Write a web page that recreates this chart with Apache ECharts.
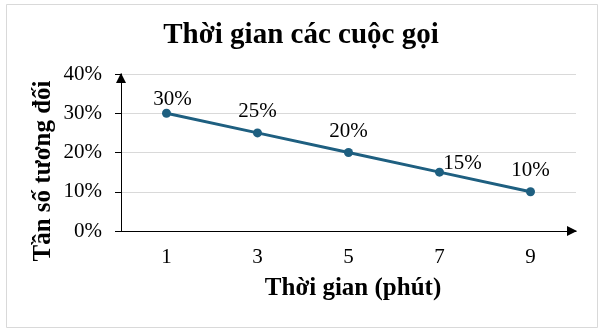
<!DOCTYPE html>
<html><head><meta charset="utf-8">
<script src="https://cdn.jsdelivr.net/npm/echarts@6/dist/echarts.min.js"></script>
<style>html,body{margin:0;padding:0;background:#fff}#c{width:602px;height:333px}</style>
</head><body><div id="c"></div>
<script>
var categories = ['1', '3', '5', '7', '9'];
var values = [30, 25, 20, 15, 10];
var yTicks = [0, 10, 20, 30, 40];
var labelOffsets = [[6, 7], [0, 0], [0, 0], [23, 12], [0, 0]];

var chart = echarts.init(document.getElementById('c'));
var F = '"Liberation Serif","Times New Roman",serif';
chart.setOption({
  backgroundColor: '#fff',
  animation: false,
  title: {
    text: 'Thời gian các cuộc gọi', left: 'center', top: 16,
    textStyle: { fontFamily: F, fontWeight: 'bold', fontSize: 29, color: '#000' }
  },
  grid: { left: 121, right: 26, top: 74, bottom: 102 },
  xAxis: {
    type: 'category', data: categories, boundaryGap: true,
    axisLine: { lineStyle: { color: '#000', width: 1 }, symbol: ['none', 'triangle'], symbolSize: [10, 10], symbolOffset: [0, -4] },
    axisTick: { show: false },
    axisLabel: { fontFamily: F, fontSize: 21, color: '#000', margin: 16 }
  },
  yAxis: {
    type: 'value', min: yTicks[0], max: yTicks[yTicks.length - 1], interval: 10,
    axisLine: { show: true, lineStyle: { color: '#000', width: 1 }, symbol: ['none', 'triangle'], symbolSize: [10, 10], symbolOffset: [0, -4] },
    axisTick: { show: true, length: 6, lineStyle: { color: '#000' } },
    splitLine: { lineStyle: { color: '#d9d9d9' } },
    axisLabel: { fontFamily: F, fontSize: 21, color: '#000', margin: 19, formatter: '{value}%' }
  },
  graphic: [
    { type: 'rect', shape: { x: 6.5, y: 4.5, width: 591, height: 323 }, style: { fill: 'none', stroke: '#d9d9d9', lineWidth: 1 }, silent: true },
    { type: 'text', x: 44, y: 171, rotation: Math.PI / 2, style: { text: 'Tần số tương đối', fontFamily: F, fontWeight: 'bold', fontSize: 25, fill: '#000', align: 'center', verticalAlign: 'middle' } },
    { type: 'text', x: 353, y: 289, style: { text: 'Thời gian (phút)', fontFamily: F, fontWeight: 'bold', fontSize: 25, fill: '#000', align: 'center', verticalAlign: 'middle' } }
  ],
  series: [{
    type: 'line',
    data: values.map(function (v, i) {
      return { value: v, label: { offset: labelOffsets[i] } };
    }),
    symbol: 'circle', symbolSize: 9,
    lineStyle: { color: '#1e5f80', width: 3 },
    itemStyle: { color: '#1e5f80' },
    label: { show: true, position: 'top', distance: 6, formatter: '{c}%', fontFamily: F, fontSize: 21, color: '#000' }
  }]
});
</script></body></html>
